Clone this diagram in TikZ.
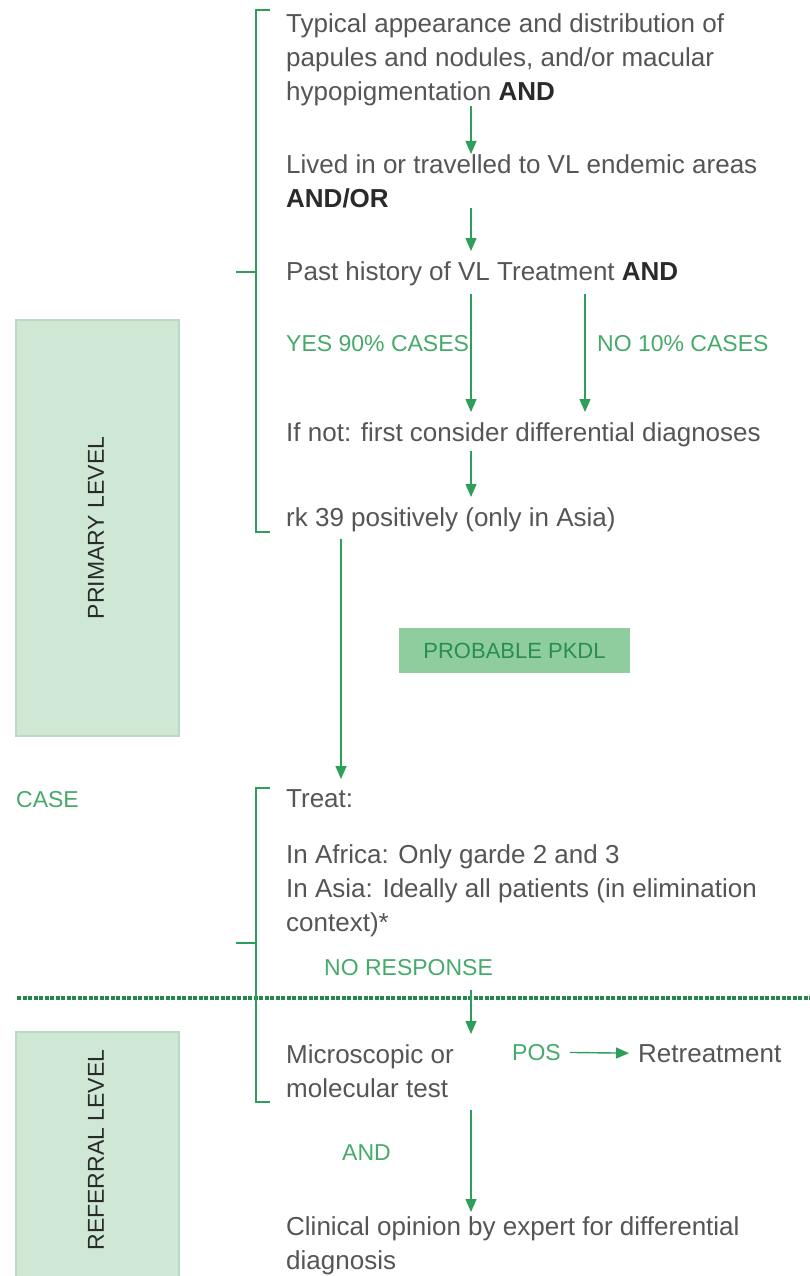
\documentclass[tikz,border=0pt]{standalone}
\usepackage{fontspec}
\setmainfont{Liberation Sans}
\usetikzlibrary{arrows.meta}

\definecolor{pkgreen}{HTML}{2E9E5B}
\definecolor{pktag}{HTML}{45AA6A}
\definecolor{pktext}{HTML}{555555}
\definecolor{pkdark}{HTML}{2A2A2A}
\definecolor{pklight}{HTML}{CFE8D6}
\definecolor{pkedge}{HTML}{B9DBC3}
\definecolor{pkmid}{HTML}{8FCC9E}

\tikzset{
  body/.style={anchor=north west, align=left, inner sep=0pt, text=pktext,
    font=\fontsize{26}{34}\selectfont},
  tag/.style={anchor=north west, inner sep=0pt, text=pktag,
    font=\fontsize{23}{27}\selectfont},
  arr/.style={pkgreen, line width=1.4pt, -{Triangle[width=11pt,length=13pt]}},
  bracket/.style={pkgreen, line width=1.2pt},
  levelbox/.style={fill=pklight, draw=pkedge, line width=1.5pt},
  levellabel/.style={rotate=90, text=pkdark, font=\fontsize{23}{27}\selectfont},
}
\newcommand{\key}[1]{{\color{pkdark}\textbf{#1}}}

\begin{document}
\begin{tikzpicture}[x=1pt,y=-1pt]
  \useasboundingbox (0,0) rectangle (810,1276);

  %%%%% START %%%%%

  % level boxes on the left
  \draw[levelbox] (16,320) rectangle (179,736);
  \node[levellabel] (primary) at (96,528) {PRIMARY LEVEL};
  \draw[levelbox] (16,1032) rectangle (179,1300);
  \node[levellabel] (referral) at (96,1150) {REFERRAL LEVEL};
  \node[tag] (casetag) at (16,791) {CASE};

  % level border
  \draw[pkgreen!85!black, line width=4pt, dash pattern=on 4pt off 1.5pt] (17,998) -- (810,998);

  % brackets
  \draw[bracket] (270,10) -- (256,10) -- (256,532) -- (270,532);
  \draw[bracket] (236,272) -- (256,272);
  \draw[bracket] (270,788) -- (256,788) -- (256,1102) -- (270,1102);
  \draw[bracket] (236,943) -- (256,943);

  % primary level
  \node[body] (typical) at (286,13) {Typical appearance and distribution of\\
    papules and nodules, and/or macular\\hypopigmentation \key{AND}};
  \node[body] (lived) at (286,154) {Lived in or travelled to VL endemic areas\\\key{AND/OR}};
  \node[body] (past) at (286,261) {Past history of VL Treatment \key{AND}};
  \node[tag] (yes) at (286,335) {YES 90\% CASES};
  \node[tag] (no) at (597,335) {NO 10\% CASES};
  \node[body] (ifnot) at (286,422) {If not: first consider differential diagnoses};
  \node[body] (rk) at (286,507) {rk 39 positively (only in Asia)};
  \node[fill=pkmid, text=pkgreen!90!black, minimum width=231pt, minimum height=45pt,
    inner sep=0pt, font=\fontsize{22}{26}\selectfont] (pkdl) at (514.5,650.5) {PROBABLE PKDL};

  % treatment
  \node[body] (treat) at (286,789) {Treat:};
  \node[body] (africa) at (286,844) {In Africa: Only garde 2 and 3\\
    In Asia: Ideally all patients (in elimination\\context)*};
  \node[tag] (noresp) at (324,959) {NO RESPONSE};

  % referral level
  \node[body] (micro) at (286,1044) {Microscopic or\\molecular test};
  \node[tag] (pos) at (512,1044) {POS};
  \node[body] (retreat) at (638,1044) {Retreatment};
  \node[tag] (andtag) at (342,1144) {AND};
  \node[body] (clinical) at (286,1216) {Clinical opinion by expert for differential\\diagnosis};

  % arrows
  \coordinate (ax) at (471,0);
  \coordinate (bx) at (585,0);
  \coordinate (cx) at (341,0);
  \draw[arr] (typical.south -| ax) -- (lived.north -| ax);
  \draw[arr, shorten >=10pt] (lived.south -| ax) -- (past.north -| ax);
  \draw[arr, shorten <=8pt, shorten >=10pt] (past.south -| ax) -- (ifnot.north -| ax);
  \draw[arr, shorten <=8pt, shorten >=10pt] (past.south -| bx) -- (ifnot.north -| bx);
  \draw[arr, shorten <=4pt, shorten >=10pt] (ifnot.south -| ax) -- (rk.north -| ax);
  \draw[arr, shorten <=7pt, shorten >=10pt] (rk.south -| cx) -- (treat.north -| cx);
  \draw[arr, shorten <=14pt, shorten >=10pt] (noresp.south -| ax) -- (micro.north -| ax);
  \draw[arr, shorten <=12pt, shorten >=4pt] (micro.south -| ax) -- (clinical.north -| ax);
  \draw[arr, shorten <=9pt, shorten >=9pt] (pos.east) -- (retreat.west);

  %%%%% END %%%%%
\end{tikzpicture}
\end{document}
